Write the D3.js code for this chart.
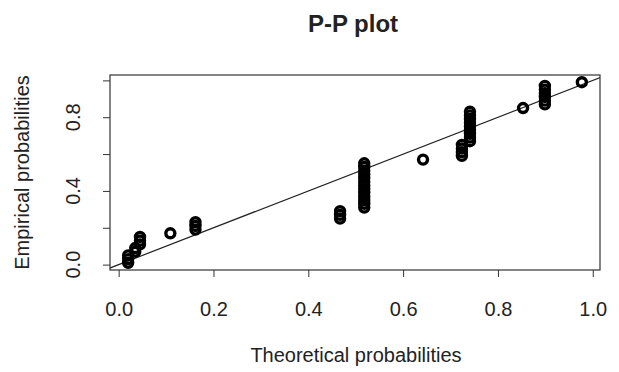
<!DOCTYPE html>
<html>
<head>
<meta charset="utf-8">
<script src="https://d3js.org/d3.v7.min.js"></script>
<style>
  body { margin: 0; background: #fff; }
  svg { display: block; }
  text { font-family: "Liberation Sans", Arial, sans-serif; fill: #222; }
</style>
</head>
<body>
<div id="chart"></div>
<script>
// Theoretical vs empirical probabilities (tied values give vertical runs)
const theoretical = [
    0.020, 0.020, 0.020, 0.035, 0.035, 0.045, 0.045, 0.045, 0.109, 0.162,
    0.162, 0.162, 0.467, 0.467, 0.467, 0.518, 0.518, 0.518, 0.518, 0.518,
    0.518, 0.518, 0.518, 0.518, 0.518, 0.518, 0.518, 0.518, 0.642, 0.724,
    0.724, 0.724, 0.724, 0.741, 0.741, 0.741, 0.741, 0.741, 0.741, 0.741,
    0.741, 0.741, 0.853, 0.899, 0.899, 0.899, 0.899, 0.899, 0.899, 0.977
];
const empirical = [
    0.01, 0.03, 0.05, 0.07, 0.09, 0.11, 0.13, 0.15, 0.17, 0.19,
    0.21, 0.23, 0.25, 0.27, 0.29, 0.31, 0.33, 0.35, 0.37, 0.39,
    0.41, 0.43, 0.45, 0.47, 0.49, 0.51, 0.53, 0.55, 0.57, 0.59,
    0.61, 0.63, 0.65, 0.67, 0.69, 0.71, 0.73, 0.75, 0.77, 0.79,
    0.81, 0.83, 0.85, 0.87, 0.89, 0.91, 0.93, 0.95, 0.97, 0.99
];
const xTicks = [0, 0.2, 0.4, 0.6, 0.8, 1.0];
const yTicks = [0, 0.2, 0.4, 0.6, 0.8, 1.0];
const yTickLabels = ['0.0', '0.4', '0.8'];

const width = 619, height = 372;
const box = { left: 110, right: 600, top: 75, bottom: 270 };

// R style: pad the data range by 4% on each side
function padded(values) {
    const [lo, hi] = d3.extent(values);
    const pad = (hi - lo) * 0.04;
    return [lo - pad, hi + pad];
}

const x = d3.scaleLinear().domain(padded(theoretical)).range([box.left, box.right]);
const y = d3.scaleLinear().domain(padded(empirical)).range([box.bottom, box.top]);

const svg = d3.select('#chart').append('svg')
    .attr('width', width)
    .attr('height', height);

svg.append('defs').append('clipPath')
    .attr('id', 'plot-clip')
    .append('rect')
    .attr('x', box.left).attr('y', box.top)
    .attr('width', box.right - box.left)
    .attr('height', box.bottom - box.top);

// Title
svg.append('text')
    .attr('x', (box.left + box.right) / 2 - 2)
    .attr('y', 32)
    .attr('text-anchor', 'middle')
    .style('font-size', '24px')
    .style('font-weight', 'bold')
    .text('P-P plot');

// Bottom axis
const xAxis = svg.append('g')
    .attr('transform', `translate(0,${box.bottom})`)
    .call(d3.axisBottom(x).tickValues(xTicks).tickSize(7).tickPadding(25)
        .tickFormat(d3.format('.1f')));
xAxis.select('.domain').remove();
xAxis.selectAll('line').attr('stroke', '#333');
xAxis.selectAll('text')
    .style('font-size', '20px')
    .style('font-family', '"Liberation Sans", Arial, sans-serif')
    .attr('fill', '#222');

// Left axis (ticks only, labels drawn rotated like R)
const yAxis = svg.append('g')
    .attr('transform', `translate(${box.left},0)`)
    .call(d3.axisLeft(y).tickValues(yTicks).tickSize(7).tickFormat(''));
yAxis.select('.domain').remove();
yAxis.selectAll('line').attr('stroke', '#333');

svg.append('g')
    .selectAll('text')
    .data(yTickLabels)
    .join('text')
    .attr('transform', d => `translate(80,${y(+d)}) rotate(-90)`)
    .attr('text-anchor', 'middle')
    .style('font-size', '20px')
    .text(d => d);

// Axis titles
svg.append('text')
    .attr('x', (box.left + box.right) / 2 + 1)
    .attr('y', 362)
    .attr('text-anchor', 'middle')
    .style('font-size', '20px')
    .text('Theoretical probabilities');

svg.append('text')
    .attr('transform', `translate(29,${(box.top + box.bottom) / 2}) rotate(-90)`)
    .attr('text-anchor', 'middle')
    .style('font-size', '20px')
    .text('Empirical probabilities');

// Reference line y = x, clipped to the plot region
const plot = svg.append('g').attr('clip-path', 'url(#plot-clip)');
plot.append('line')
    .attr('x1', x(-0.1)).attr('y1', y(-0.1))
    .attr('x2', x(1.1)).attr('y2', y(1.1))
    .attr('stroke', '#222')
    .attr('stroke-width', 1.2);

// Points (open circles)
plot.append('g')
    .selectAll('circle')
    .data(theoretical.map((t, i) => ({ t, e: empirical[i] })))
    .join('circle')
    .attr('cx', d => x(d.t))
    .attr('cy', d => y(d.e))
    .attr('r', 4.5)
    .attr('fill', 'none')
    .attr('stroke', '#000')
    .attr('stroke-width', 3.4);

// Plot box
svg.append('rect')
    .attr('x', box.left).attr('y', box.top)
    .attr('width', box.right - box.left)
    .attr('height', box.bottom - box.top)
    .attr('fill', 'none')
    .attr('stroke', '#333')
    .attr('stroke-width', 1.2);
</script>
</body>
</html>
